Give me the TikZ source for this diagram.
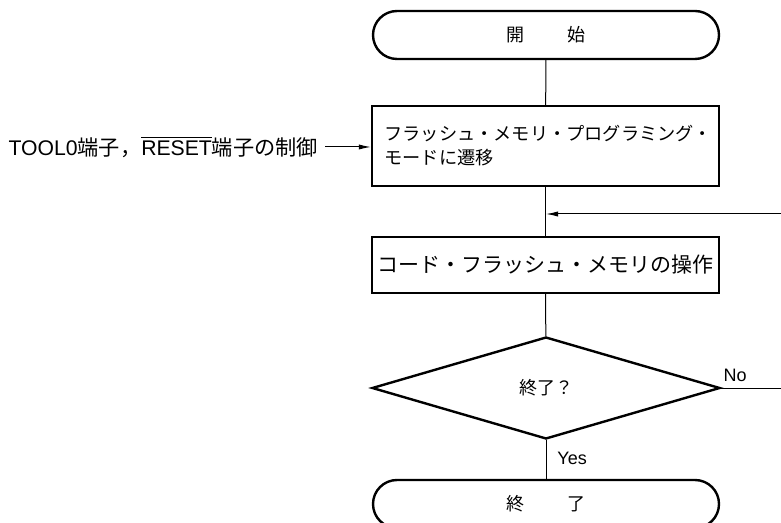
\documentclass[tikz,border=0pt]{standalone}
\usepackage{fontspec}
\setmainfont{Liberation Sans}
\newfontfamily\jp{Noto Sans CJK JP}
\usetikzlibrary{positioning, arrows.meta, shapes.geometric}

\begin{document}
\begin{tikzpicture}[x=0.5pt, y=-0.5pt]

\tikzset{
    term/.style={draw, line width=1.2pt, rounded corners=12pt, minimum width=173pt,
        minimum height=24pt, font=\jp\fontsize{9}{12}\selectfont},
    procbox/.style={draw, line width=1.2pt, minimum width=173.5pt, inner sep=0pt},
    decide/.style={draw, diamond, line width=1.2pt, minimum width=174pt,
        minimum height=51pt, inner sep=0pt, font=\jp\fontsize{9}{12}\selectfont},
    line/.style={line width=0.5pt},
    flow/.style={line width=0.5pt, -{Latex[length=6pt, width=2.6pt]}},
    lbl/.style={font=\fontsize{9}{11}\selectfont, inner sep=1pt}
}

\useasboundingbox (0,0) rectangle (781,523);

%====================================================
% main column
%====================================================
\node[term] (start) at (546,35) {開\hspace{2.4em}始};

\node[procbox, minimum height=40pt, text width=161pt, align=left,
    font=\jp\fontsize{9.1}{12}\selectfont] (mode) at (545.5,146)
    {フラッシュ・メモリ・プログラミング・\\モードに遷移};

\node[procbox, minimum height=28pt, font=\jp\fontsize{10.5}{12}\selectfont]
    (ops) at (545.5,265) {コード・フラッシュ・メモリの操作};

\node[decide] (dec) at (546,388) {終了？};

\node[term] (stop) at (546,504) {終\hspace{2.4em}了};

%====================================================
% input from the left
%====================================================
\node[anchor=east, font=\fontsize{10.6}{12}\selectfont] (ctrl) at (325,147)
    {TOOL0{\jp 端子，}$\overline{\mbox{RESET}}${\jp 端子の制御}};

%====================================================
% connectors
%====================================================
\draw[line] (start) -- (mode);
\draw[line] (mode) -- (ops);
\draw[line] (ops) -- (dec);
\draw[line] (dec) -- (stop);
\draw[flow] (ctrl.east) -- (ctrl.east -| mode.west);

% loop back (leaves the picture on the right)
\coordinate (merge) at (546,214);
\coordinate (loopR) at (800,214);
\draw[flow] (dec.east) -| (loopR) -- (merge);

\node[lbl, anchor=south west] (no) at ([yshift=2pt]dec.east) {No};
\node[lbl, anchor=west] (yes) at (555,458) {Yes};

\end{tikzpicture}
\end{document}
